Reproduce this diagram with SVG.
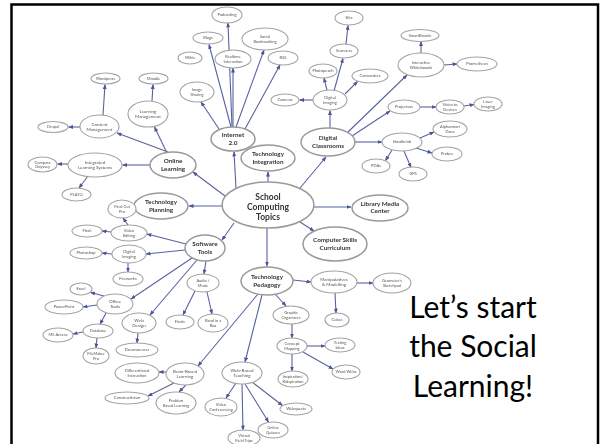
<svg xmlns="http://www.w3.org/2000/svg" width="600" height="444" viewBox="0 0 600 444">
  <defs>
    <marker id="ah" markerWidth="5" markerHeight="4" refX="4.5" refY="2" orient="auto" markerUnits="userSpaceOnUse">
      <path d="M0,0 L5,2 L0,4 z" fill="#4a5699"/>
    </marker>
    <filter id="soft" x="-5%" y="-5%" width="110%" height="110%">
      <feGaussianBlur stdDeviation="0.35"/>
    </filter>
    <style>
      .c line { stroke: #5763a0; stroke-width: 1.1; marker-end: url(#ah); }
      .e { fill: #fff; stroke: #a3a3a3; stroke-width: 1.1; }
      .em { fill: #fff; stroke: #9a9a9a; stroke-width: 1.5; }
      .lab { font-family: Lato, "Liberation Sans", sans-serif; text-anchor: middle; fill: #555; }
      .s { font-size: 4px; }
      .md { font-size: 4.5px; }
      .b { font-size: 6.3px; font-weight: 700; fill: #333; }
      .big { font-size: 8.5px; font-weight: 700; fill: #333; }
      .note { font-family: Lato, "Open Sans", sans-serif; font-size: 30px; fill: #000; text-anchor: middle; }
    </style>
  </defs>

  <rect x="0" y="0" width="600" height="444" fill="#fff"/>

  <g id="mindmap" filter="url(#soft)">
    <!-- connectors -->
    <g id="connectors" class="c">
      <line x1="268" y1="182" x2="268" y2="172"/>
      <line x1="236" y1="188" x2="234" y2="152"/>
      <line x1="300" y1="188" x2="326" y2="157"/>
      <line x1="314" y1="207" x2="351" y2="207"/>
      <line x1="300" y1="222" x2="314" y2="231"/>
      <line x1="267" y1="228" x2="267" y2="266"/>
      <line x1="234" y1="223" x2="222" y2="240"/>
      <line x1="225" y1="196" x2="193" y2="172"/>
      <line x1="222" y1="206" x2="189" y2="206"/>

      <line x1="168" y1="152" x2="117" y2="133"/>
      <line x1="167" y1="153" x2="154.5" y2="127"/>
      <line x1="150" y1="165" x2="122.5" y2="165"/>
      <line x1="103" y1="115" x2="105" y2="84.5"/>
      <line x1="80" y1="127" x2="68.5" y2="127"/>
      <line x1="152" y1="101" x2="153" y2="84.5"/>
      <line x1="68" y1="164" x2="57.5" y2="164"/>
      <line x1="88" y1="176" x2="79" y2="188"/>

      <line x1="219" y1="129" x2="201" y2="102"/>
      <line x1="231" y1="127" x2="209" y2="44.5"/>
      <line x1="232" y1="127" x2="228" y2="23"/>
      <line x1="233" y1="127" x2="233" y2="68"/>
      <line x1="236" y1="127" x2="264" y2="50"/>
      <line x1="245" y1="129" x2="280" y2="65"/>

      <line x1="330" y1="128" x2="330" y2="110.5"/>
      <line x1="313" y1="100" x2="299.5" y2="100"/>
      <line x1="327" y1="90.5" x2="324" y2="78"/>
      <line x1="334" y1="91" x2="343" y2="58.5"/>
      <line x1="346" y1="44" x2="348" y2="25.5"/>
      <line x1="345" y1="94" x2="357.5" y2="81.5"/>
      <line x1="348" y1="132" x2="407" y2="75"/>
      <line x1="352" y1="136" x2="390" y2="111"/>
      <line x1="355" y1="142" x2="382" y2="142"/>
      <line x1="421" y1="53" x2="421" y2="41.5"/>
      <line x1="444" y1="65" x2="457" y2="64"/>
      <line x1="420" y1="107" x2="436" y2="107"/>
      <line x1="464" y1="106" x2="474" y2="104.5"/>
      <line x1="420" y1="138" x2="434" y2="132"/>
      <line x1="416" y1="148" x2="432" y2="153"/>
      <line x1="404" y1="151" x2="411" y2="167.5"/>
      <line x1="392" y1="150" x2="385.5" y2="160.5"/>

      <line x1="186" y1="244" x2="147" y2="234"/>
      <line x1="185" y1="250" x2="146" y2="254"/>
      <line x1="192" y1="258" x2="131" y2="299"/>
      <line x1="197" y1="260" x2="150" y2="315"/>
      <line x1="206" y1="261" x2="204" y2="274"/>
      <line x1="128" y1="225" x2="123" y2="218"/>
      <line x1="111" y1="232" x2="102" y2="231"/>
      <line x1="112" y1="254" x2="102" y2="253"/>
      <line x1="128" y1="263" x2="128" y2="272"/>
      <line x1="104" y1="296" x2="90.5" y2="292.5"/>
      <line x1="97" y1="305" x2="83" y2="307"/>
      <line x1="106" y1="313" x2="100" y2="324.2"/>
      <line x1="83" y1="332" x2="73" y2="334"/>
      <line x1="97" y1="338" x2="96" y2="348"/>
      <line x1="138" y1="333" x2="137" y2="343"/>
      <line x1="195" y1="291" x2="183" y2="315"/>
      <line x1="207" y1="292" x2="212" y2="314"/>

      <line x1="293" y1="280" x2="311" y2="282"/>
      <line x1="357" y1="283" x2="373" y2="283"/>
      <line x1="335" y1="293" x2="336" y2="313"/>
      <line x1="275" y1="294" x2="286" y2="306"/>
      <line x1="292" y1="324" x2="292" y2="338"/>
      <line x1="307" y1="346" x2="325" y2="346"/>
      <line x1="303" y1="352" x2="333" y2="369"/>
      <line x1="292" y1="354" x2="292" y2="371"/>
      <line x1="262" y1="295" x2="245" y2="362"/>
      <line x1="258" y1="294" x2="198" y2="366"/>
      <line x1="236" y1="383" x2="226" y2="398"/>
      <line x1="242" y1="384" x2="243" y2="430"/>
      <line x1="245" y1="384" x2="268.5" y2="422"/>
      <line x1="252" y1="382" x2="282.5" y2="405.5"/>
      <line x1="167" y1="372" x2="159" y2="372"/>
      <line x1="174" y1="383" x2="148" y2="396"/>
      <line x1="186" y1="385" x2="179" y2="392"/>
    </g>

    <!-- central topic and main branches -->
    <g id="n-school-computing-topics">
      <ellipse class="em" cx="268" cy="205" rx="46" ry="23"/>
      <text class="lab big"><tspan x="268" y="199.8">School</tspan><tspan x="268" y="210.3">Computing</tspan><tspan x="268" y="220.3">Topics</tspan></text>
    </g>
    <g id="n-technology-integration">
      <ellipse class="em" cx="268" cy="158" rx="27" ry="13"/>
      <text class="lab b"><tspan x="268" y="156.2">Technology</tspan><tspan x="268" y="164.2">Integration</tspan></text>
    </g>
    <g id="n-internet">
      <ellipse class="em" cx="233" cy="139" rx="22" ry="12"/>
      <text class="lab b"><tspan x="233" y="137.2">Internet</tspan><tspan x="233" y="145.2">2.0</tspan></text>
    </g>
    <g id="n-digital-classrooms">
      <ellipse class="em" cx="328" cy="142" rx="27" ry="14"/>
      <text class="lab b"><tspan x="328" y="140.2">Digital</tspan><tspan x="328" y="148.2">Classrooms</tspan></text>
    </g>
    <g id="n-library-media-center">
      <ellipse class="em" cx="380" cy="208" rx="28" ry="13"/>
      <text class="lab b"><tspan x="380" y="205.5">Library Media</tspan><tspan x="380" y="213">Center</tspan></text>
    </g>
    <g id="n-computer-skills">
      <ellipse class="em" cx="335" cy="244" rx="32" ry="17"/>
      <text class="lab b"><tspan x="335" y="241.5">Computer Skills</tspan><tspan x="335" y="249.5">Curriculum</tspan></text>
    </g>
    <g id="n-technology-pedagogy">
      <ellipse class="em" cx="267" cy="281" rx="26" ry="14"/>
      <text class="lab b"><tspan x="267" y="279.2">Technology</tspan><tspan x="267" y="287.2">Pedagogy</tspan></text>
    </g>
    <g id="n-software-tools">
      <ellipse class="em" cx="205" cy="248" rx="20" ry="13"/>
      <text class="lab b"><tspan x="205" y="246.2">Software</tspan><tspan x="205" y="254.2">Tools</tspan></text>
    </g>
    <g id="n-technology-planning">
      <ellipse class="em" cx="161" cy="206" rx="27" ry="13"/>
      <text class="lab b"><tspan x="161" y="204.2">Technology</tspan><tspan x="161" y="212.2">Planning</tspan></text>
    </g>
    <g id="n-online-learning">
      <ellipse class="em" cx="173" cy="165" rx="23" ry="13"/>
      <text class="lab b"><tspan x="173" y="163.2">Online</tspan><tspan x="173" y="171.2">Learning</tspan></text>
    </g>

    <!-- online learning -->
    <g id="n-content-management">
      <ellipse class="e" cx="99.5" cy="126.5" rx="19.5" ry="11.5"/>
      <text class="lab md"><tspan x="99.5" y="125.5">Content</tspan><tspan x="99.5" y="130.7">Management</tspan></text>
    </g>
    <g id="n-learning-management">
      <ellipse class="e" cx="148" cy="114" rx="20" ry="13"/>
      <text class="lab md"><tspan x="148" y="113">Learning</tspan><tspan x="148" y="118.2">Management</tspan></text>
    </g>
    <g id="n-integrated-learning">
      <ellipse class="e" cx="95" cy="165" rx="27" ry="12"/>
      <text class="lab md"><tspan x="95" y="164">Integrated</tspan><tspan x="95" y="169.2">Learning Systems</tspan></text>
    </g>
    <g id="n-wordpress">
      <ellipse class="e" cx="105.5" cy="78.5" rx="14.5" ry="5.5"/>
      <text class="lab s" x="105.5" y="79.9">Wordpress</text>
    </g>
    <g id="n-moodle">
      <ellipse class="e" cx="153.5" cy="78.5" rx="14.5" ry="5.5"/>
      <text class="lab s" x="153.5" y="79.9">Moodle</text>
    </g>
    <g id="n-drupal">
      <ellipse class="e" cx="53" cy="127" rx="15" ry="5.5"/>
      <text class="lab s" x="53" y="128.4">Drupal</text>
    </g>
    <g id="n-compass">
      <ellipse class="e" cx="42.5" cy="164.5" rx="14.5" ry="7.5"/>
      <text class="lab s"><tspan x="42.5" y="163.7">Compass</tspan><tspan x="42.5" y="168.1">Odyssey</tspan></text>
    </g>
    <g id="n-plato">
      <ellipse class="e" cx="76.5" cy="194.5" rx="14.5" ry="6.5"/>
      <text class="lab s" x="76.5" y="195.9">PLATO</text>
    </g>

    <!-- internet 2.0 -->
    <g id="n-podcasting">
      <ellipse class="e" cx="227" cy="15" rx="15" ry="8"/>
      <text class="lab s" x="227" y="16.4">Podcasting</text>
    </g>
    <g id="n-blogs">
      <ellipse class="e" cx="208" cy="38" rx="15" ry="6"/>
      <text class="lab s" x="208" y="39.4">Blogs</text>
    </g>
    <g id="n-wikis">
      <ellipse class="e" cx="190" cy="58" rx="12" ry="6"/>
      <text class="lab s" x="190" y="59.4">Wikis</text>
    </g>
    <g id="n-realtime">
      <ellipse class="e" cx="233" cy="59" rx="18" ry="9"/>
      <text class="lab s"><tspan x="233" y="58.2">Realtime</tspan><tspan x="233" y="62.6">Interaction</tspan></text>
    </g>
    <g id="n-social-bookmarking">
      <ellipse class="e" cx="265" cy="39" rx="23" ry="11"/>
      <text class="lab s"><tspan x="265" y="38.2">Social</tspan><tspan x="265" y="42.6">Bookmarking</tspan></text>
    </g>
    <g id="n-rss">
      <ellipse class="e" cx="283" cy="58" rx="15" ry="7"/>
      <text class="lab s" x="283" y="59.4">RSS</text>
    </g>
    <g id="n-image-sharing">
      <ellipse class="e" cx="197" cy="92" rx="17" ry="10"/>
      <text class="lab s"><tspan x="197" y="91.2">Image</tspan><tspan x="197" y="95.6">Sharing</tspan></text>
    </g>

    <!-- digital classrooms -->
    <g id="n-digital-imaging-a">
      <ellipse class="e" cx="330" cy="100" rx="17" ry="10"/>
      <text class="lab s"><tspan x="330" y="99.2">Digital</tspan><tspan x="330" y="103.6">Imaging</tspan></text>
    </g>
    <g id="n-cameras">
      <ellipse class="e" cx="285" cy="100" rx="14" ry="6"/>
      <text class="lab s" x="285" y="101.4">Cameras</text>
    </g>
    <g id="n-photopeach">
      <ellipse class="e" cx="323" cy="71" rx="14" ry="7"/>
      <text class="lab s" x="323" y="72.4">Photopeach</text>
    </g>
    <g id="n-scanners">
      <ellipse class="e" cx="344" cy="51" rx="14" ry="7"/>
      <text class="lab s" x="344" y="52.4">Scanners</text>
    </g>
    <g id="n-kits">
      <ellipse class="e" cx="349" cy="18" rx="14" ry="7"/>
      <text class="lab s" x="349" y="19.4">Kits</text>
    </g>
    <g id="n-camcorders">
      <ellipse class="e" cx="370" cy="76" rx="18" ry="7"/>
      <text class="lab s" x="370" y="77.4">Camcorders</text>
    </g>
    <g id="n-interactive-whiteboards">
      <ellipse class="e" cx="421" cy="65" rx="23" ry="12"/>
      <text class="lab s"><tspan x="421" y="64.2">Interactive</tspan><tspan x="421" y="68.6">Whiteboards</tspan></text>
    </g>
    <g id="n-smartboards">
      <ellipse class="e" cx="420" cy="35.5" rx="19" ry="6"/>
      <text class="lab s" x="420" y="36.9">SmartBoards</text>
    </g>
    <g id="n-promethean">
      <ellipse class="e" cx="477" cy="64" rx="20" ry="7"/>
      <text class="lab s" x="477" y="65.4">Promethean</text>
    </g>
    <g id="n-projectors">
      <ellipse class="e" cx="404" cy="107" rx="16" ry="7"/>
      <text class="lab s" x="404" y="108.4">Projectors</text>
    </g>
    <g id="n-video-devices">
      <ellipse class="e" cx="450" cy="107" rx="14" ry="7"/>
      <text class="lab s"><tspan x="450" y="106.2">Video to</tspan><tspan x="450" y="110.6">Devices</tspan></text>
    </g>
    <g id="n-laser-imaging">
      <ellipse class="e" cx="488" cy="104" rx="14" ry="7"/>
      <text class="lab s"><tspan x="488" y="103.2">Laser</tspan><tspan x="488" y="107.6">Imaging</tspan></text>
    </g>
    <g id="n-handhelds">
      <ellipse class="e" cx="402" cy="142" rx="20" ry="9"/>
      <text class="lab s" x="402" y="143.4">Handhelds</text>
    </g>
    <g id="n-alphasmart">
      <ellipse class="e" cx="450" cy="129" rx="17" ry="8"/>
      <text class="lab s"><tspan x="450" y="128.2">Alphasmart</tspan><tspan x="450" y="132.6">Dana</tspan></text>
    </g>
    <g id="n-probes">
      <ellipse class="e" cx="447" cy="154" rx="15" ry="7"/>
      <text class="lab s" x="447" y="155.4">Probes</text>
    </g>
    <g id="n-gps">
      <ellipse class="e" cx="413" cy="174" rx="14" ry="7"/>
      <text class="lab s" x="413" y="175.4">GPS</text>
    </g>
    <g id="n-pdas">
      <ellipse class="e" cx="376" cy="166" rx="14" ry="7"/>
      <text class="lab s" x="376" y="167.4">PDAs</text>
    </g>

    <!-- software tools -->
    <g id="n-video-editing">
      <ellipse class="e" cx="129" cy="233" rx="18" ry="8"/>
      <text class="lab s"><tspan x="129" y="232.2">Video</tspan><tspan x="129" y="236.6">Editing</tspan></text>
    </g>
    <g id="n-final-cut">
      <ellipse class="e" cx="122" cy="209" rx="14" ry="9"/>
      <text class="lab s"><tspan x="122" y="208.2">Final Cut</tspan><tspan x="122" y="212.6">Pro</tspan></text>
    </g>
    <g id="n-flash">
      <ellipse class="e" cx="87" cy="231" rx="15" ry="6"/>
      <text class="lab s" x="87" y="232.4">Flash</text>
    </g>
    <g id="n-digital-imaging-b">
      <ellipse class="e" cx="129" cy="254" rx="17" ry="9"/>
      <text class="lab s"><tspan x="129" y="253.2">Digital</tspan><tspan x="129" y="257.6">Imaging</tspan></text>
    </g>
    <g id="n-photoshop">
      <ellipse class="e" cx="86" cy="253" rx="16" ry="6"/>
      <text class="lab s" x="86" y="254.4">Photoshop</text>
    </g>
    <g id="n-fireworks">
      <ellipse class="e" cx="128" cy="279" rx="15" ry="7"/>
      <text class="lab s" x="128" y="280.4">Fireworks</text>
    </g>
    <g id="n-office-tools">
      <ellipse class="e" cx="115" cy="304" rx="18" ry="10"/>
      <text class="lab md"><tspan x="115" y="303">Office</tspan><tspan x="115" y="308.2">Tools</tspan></text>
    </g>
    <g id="n-excel">
      <ellipse class="e" cx="81" cy="289" rx="11" ry="6"/>
      <text class="lab s" x="81" y="290.4">Excel</text>
    </g>
    <g id="n-powerpoint">
      <ellipse class="e" cx="64" cy="307" rx="19" ry="7"/>
      <text class="lab s" x="64" y="308.4">PowerPoint</text>
    </g>
    <g id="n-database">
      <ellipse class="e" cx="98" cy="331" rx="15" ry="7"/>
      <text class="lab s" x="98" y="332.4">Database</text>
    </g>
    <g id="n-ms-access">
      <ellipse class="e" cx="58" cy="335" rx="15" ry="7"/>
      <text class="lab s" x="58" y="336.4">MS Access</text>
    </g>
    <g id="n-filemaker">
      <ellipse class="e" cx="96" cy="356" rx="13" ry="8"/>
      <text class="lab s"><tspan x="96" y="355.2">FileMaker</tspan><tspan x="96" y="359.6">Pro</tspan></text>
    </g>
    <g id="n-web-design">
      <ellipse class="e" cx="139" cy="323" rx="17" ry="10"/>
      <text class="lab md"><tspan x="139" y="322">Web</tspan><tspan x="139" y="327.2">Design</tspan></text>
    </g>
    <g id="n-dreamweaver">
      <ellipse class="e" cx="137" cy="350" rx="21" ry="7"/>
      <text class="lab s" x="137" y="351.4">Dreamweaver</text>
    </g>
    <g id="n-audio-music">
      <ellipse class="e" cx="203" cy="283" rx="16" ry="9"/>
      <text class="lab s"><tspan x="203" y="282.2">Audio /</tspan><tspan x="203" y="286.6">Music</tspan></text>
    </g>
    <g id="n-finale">
      <ellipse class="e" cx="180" cy="322" rx="14" ry="7"/>
      <text class="lab s" x="180" y="323.4">Finale</text>
    </g>
    <g id="n-band-in-a-box">
      <ellipse class="e" cx="213" cy="323" rx="15" ry="9"/>
      <text class="lab s"><tspan x="213" y="322.2">Band in a</tspan><tspan x="213" y="326.6">Box</tspan></text>
    </g>

    <!-- technology pedagogy -->
    <g id="n-manipulatives">
      <ellipse class="e" cx="334" cy="282" rx="23" ry="11"/>
      <text class="lab md"><tspan x="334" y="281">Manipulatives</tspan><tspan x="334" y="286.2">&amp; Modelling</tspan></text>
    </g>
    <g id="n-geometers-sketchpad">
      <ellipse class="e" cx="392" cy="283" rx="19" ry="10"/>
      <text class="lab s"><tspan x="392" y="282.2">Geometer’s</tspan><tspan x="392" y="286.6">Sketchpad</tspan></text>
    </g>
    <g id="n-cubes">
      <ellipse class="e" cx="337" cy="320" rx="12" ry="7"/>
      <text class="lab s" x="337" y="321.4">Cubes</text>
    </g>
    <g id="n-graphic-organizers">
      <ellipse class="e" cx="291" cy="315" rx="18" ry="9"/>
      <text class="lab s"><tspan x="291" y="314.2">Graphic</tspan><tspan x="291" y="318.6">Organizers</tspan></text>
    </g>
    <g id="n-concept-mapping">
      <ellipse class="e" cx="292" cy="346" rx="15" ry="8"/>
      <text class="lab s"><tspan x="292" y="345.2">Concept</tspan><tspan x="292" y="349.6">Mapping</tspan></text>
    </g>
    <g id="n-testing-ideas">
      <ellipse class="e" cx="340" cy="345" rx="15" ry="7"/>
      <text class="lab s"><tspan x="340" y="344.2">Testing</tspan><tspan x="340" y="348.6">Ideas</tspan></text>
    </g>
    <g id="n-word-webs">
      <ellipse class="e" cx="346" cy="372" rx="14" ry="7"/>
      <text class="lab s" x="346" y="373.4">Word Webs</text>
    </g>
    <g id="n-inspiration">
      <ellipse class="e" cx="293" cy="379" rx="15" ry="8"/>
      <text class="lab s"><tspan x="293" y="378.2">Inspiration/</tspan><tspan x="293" y="382.6">Kidspiration</tspan></text>
    </g>
    <g id="n-web-based-teaching">
      <ellipse class="e" cx="242" cy="373" rx="20" ry="11"/>
      <text class="lab md"><tspan x="242" y="372">Web-Based</tspan><tspan x="242" y="377.2">Teaching</tspan></text>
    </g>
    <g id="n-video-conferencing">
      <ellipse class="e" cx="221" cy="407" rx="16" ry="9"/>
      <text class="lab s"><tspan x="221" y="406.2">Video</tspan><tspan x="221" y="410.6">Conferencing</tspan></text>
    </g>
    <g id="n-virtual-field-trips">
      <ellipse class="e" cx="244" cy="438" rx="16" ry="8"/>
      <text class="lab s"><tspan x="244" y="437.2">Virtual</tspan><tspan x="244" y="441.6">Field Trips</tspan></text>
    </g>
    <g id="n-online-quizzes">
      <ellipse class="e" cx="273" cy="430" rx="15" ry="8"/>
      <text class="lab s"><tspan x="273" y="429.2">Online</tspan><tspan x="273" y="433.6">Quizzes</tspan></text>
    </g>
    <g id="n-webquests">
      <ellipse class="e" cx="296" cy="409" rx="16" ry="6"/>
      <text class="lab s" x="296" y="410.4">Webquests</text>
    </g>
    <g id="n-brain-based">
      <ellipse class="e" cx="185" cy="374" rx="19" ry="11"/>
      <text class="lab md"><tspan x="185" y="373">Brain-Based</tspan><tspan x="185" y="378.2">Learning</tspan></text>
    </g>
    <g id="n-differentiated">
      <ellipse class="e" cx="137" cy="373" rx="22" ry="10"/>
      <text class="lab s"><tspan x="137" y="372.2">Differentiated</tspan><tspan x="137" y="376.6">Instruction</tspan></text>
    </g>
    <g id="n-constructivism">
      <ellipse class="e" cx="127" cy="398" rx="22" ry="6"/>
      <text class="lab s" x="127" y="399.4">Constructivism</text>
    </g>
    <g id="n-problem-based">
      <ellipse class="e" cx="176" cy="403" rx="20" ry="11"/>
      <text class="lab s"><tspan x="176" y="402.2">Problem</tspan><tspan x="176" y="406.6">Based Learning</tspan></text>
    </g>
  </g>

  <!-- slide frame -->
  <rect x="11.5" y="4.5" width="586.5" height="460" fill="none" stroke="#000" stroke-width="2.5"/>

  <!-- caption -->
  <text class="note"><tspan x="473" y="318">Let’s start</tspan><tspan x="473" y="357">the Social</tspan><tspan x="473" y="396.5">Learning!</tspan></text>
</svg>
